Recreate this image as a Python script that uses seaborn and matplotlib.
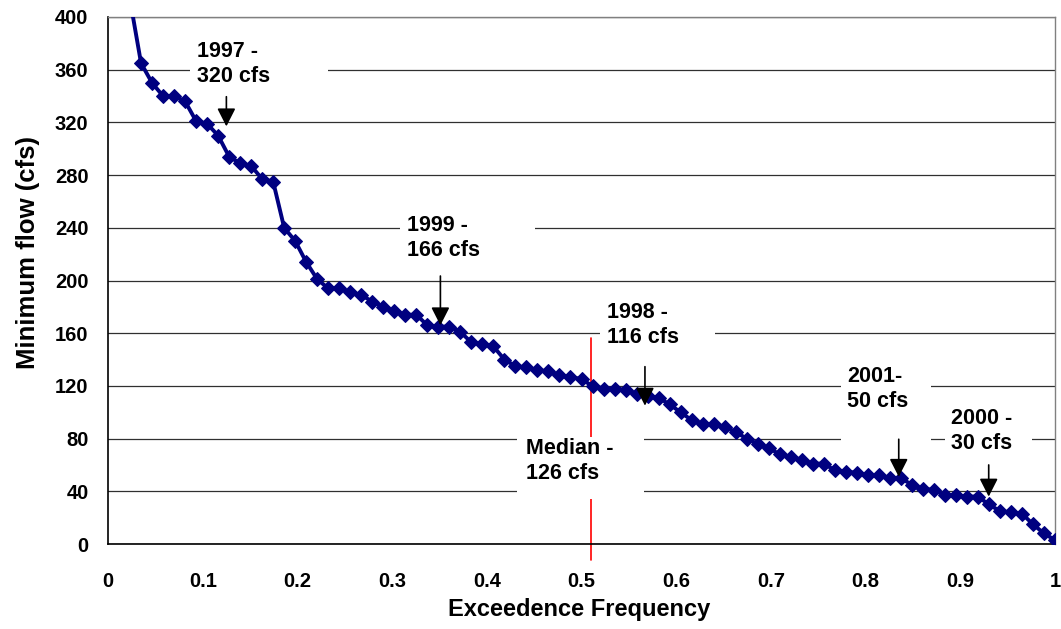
import numpy as np
import pandas as pd
import matplotlib
matplotlib.use('Agg')
import matplotlib.pyplot as plt
from matplotlib.patches import Rectangle
import seaborn as sns

# 每年最小流量（cfs），从大到小排列
flows = [520, 413, 365, 350, 340, 340, 336, 321, 319, 310,
         294, 289, 287, 277, 275, 240, 230, 214, 201, 194,
         194, 191, 189, 184, 180, 177, 174, 174, 166, 165,
         165, 161, 153, 152, 150, 140, 135, 134, 132, 131,
         128, 127, 125, 120, 118, 118, 117, 114, 112, 111,
         106, 100, 94, 91, 91, 89, 85, 80, 76, 73,
         68, 66, 64, 61, 61, 56, 55, 54, 52, 52,
         50, 50, 45, 42, 41, 37, 37, 36, 36, 30,
         25, 24, 23, 15, 8, 3]

# 标注：年份和对应流量
note_text = ['1997 -\n320 cfs', '1999 -\n166 cfs', '1998 -\n116 cfs', '2001-\n50 cfs', '2000 -\n30 cfs']
note_freq = [0.125, 0.351, 0.567, 0.835, 0.930]
note_flow = [317, 166, 105, 51, 36]
median_text = 'Median -\n126 cfs'
median_freq = 0.51

x_ticks = [0, 0.1, 0.2, 0.3, 0.4, 0.5, 0.6, 0.7, 0.8, 0.9, 1]
x_tick_labels = ['0', '0.1', '0.2', '0.3', '0.4', '0.5', '0.6', '0.7', '0.8', '0.9', '1']
y_ticks = [0, 40, 80, 120, 160, 200, 240, 280, 320, 360, 400]

df = pd.DataFrame({'flow': flows})
df['exceedence'] = df['flow'].rank(ascending=False, method='first') / len(df)

sns.set_style('white')
plt.rcParams['font.family'] = ['Liberation Sans', 'DejaVu Sans']
plt.rcParams['font.weight'] = 'bold'

fig = plt.figure(figsize=(10.61, 6.29), dpi=100)
ax = fig.add_axes([108 / 1061, 1 - 544 / 629, 947 / 1061, 527 / 629])

sns.lineplot(data=df, x='exceedence', y='flow', ax=ax, color='#000080', linewidth=2.8,
             marker='D', markersize=7, markeredgecolor='#000080', zorder=3)

ax.set_xlim(0, 1)
ax.set_ylim(0, 400)
ax.set_xticks(x_ticks)
ax.set_xticklabels(x_tick_labels)
ax.set_yticks(y_ticks)
ax.yaxis.grid(True, color='#303030', linewidth=0.9, zorder=0)
ax.xaxis.grid(False)
ax.set_axisbelow(True)

for s in ['left', 'bottom']:
    ax.spines[s].set_color('black')
    ax.spines[s].set_linewidth(1.2)
for s in ['top', 'right']:
    ax.spines[s].set_color('#808080')
    ax.spines[s].set_linewidth(1.0)

ax.tick_params(axis='both', direction='out', length=6, width=1, colors='black', labelsize=14.5)
ax.tick_params(axis='y', pad=8)
ax.tick_params(axis='x', pad=14)
for lab in ax.get_xticklabels() + ax.get_yticklabels():
    lab.set_fontweight('bold')

ax.set_xlabel('Exceedence Frequency', fontsize=17, fontweight='bold', color='black')
ax.set_ylabel('Minimum flow (cfs)', fontsize=18.5, fontweight='bold', color='black')
ax.xaxis.set_label_coords(0.498, -0.103)
ax.yaxis.set_label_coords(-0.072, 0.553)

# 白底文本框，盖住网格线
boxes = [(0.087, 343, 0.145, 49), (0.308, 212, 0.143, 40), (0.5195, 145, 0.1215, 45),
         (0.774, 76, 0.095, 62), (0.8838, 64, 0.0916, 42), (0.432, 34, 0.134, 47)]
for bx, by, bw, bh in boxes:
    ax.add_patch(Rectangle((bx, by), bw, bh, facecolor='white', edgecolor='none', zorder=2.5))

# 中位数红线
ax.plot([median_freq, median_freq], [156, -12], color='red', linewidth=1.2, zorder=2, clip_on=False)

text_pos = [(0.0936, 382), (0.3154, 249.5), (0.5273, 184), (0.7807, 135), (0.8899, 103)]
arrow_start = [339.5, 203.4, 134.6, 79.5, 60]
for txt, (tx, ty), fx, fy, sy in zip(note_text, text_pos, note_freq, note_flow, arrow_start):
    ax.text(tx, ty, txt, ha='left', va='top', fontsize=15.5, fontweight='bold',
            linespacing=1.26, color='black', zorder=4)
    ax.annotate('', xy=(fx, fy), xytext=(fx, sy),
                arrowprops=dict(arrowstyle='-|>,head_length=0.55,head_width=0.28',
                                mutation_scale=20, color='black', lw=1.2, shrinkA=0, shrinkB=0),
                zorder=4)
ax.text(0.4414, 80.5, median_text, ha='left', va='top', fontsize=15.5, fontweight='bold',
        linespacing=1.26, color='black', zorder=4)

fig.savefig('out.png', dpi=100)
